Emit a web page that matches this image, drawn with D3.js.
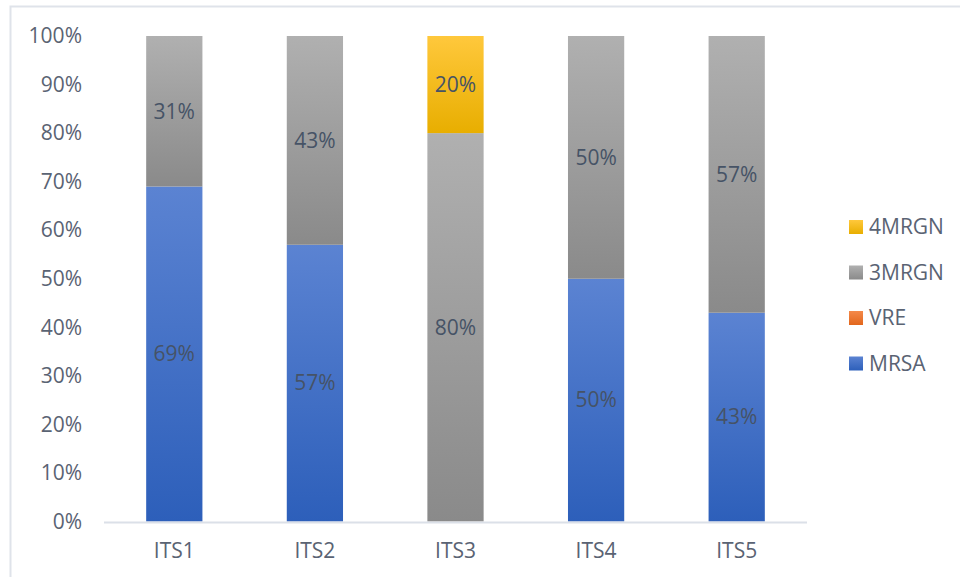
<!DOCTYPE html>
<html>
<head>
<meta charset="utf-8">
<script src="https://cdn.jsdelivr.net/npm/d3@7"></script>
<style>
  body { margin: 0; background: #fff; }
  text { font-family: "Open Sans", "Noto Sans", sans-serif; }
</style>
</head>
<body>
<div class="chart"></div>
<script>
// data
var categories = ["ITS1", "ITS2", "ITS3", "ITS4", "ITS5"];
var seriesNames = ["MRSA", "VRE", "3MRGN", "4MRGN"];
var mrsa  = [69, 57, 0, 50, 43];
var vre   = [0, 0, 0, 0, 0];
var mrgn3 = [31, 43, 80, 50, 57];
var mrgn4 = [0, 0, 20, 0, 0];
var yTicks = [0, 10, 20, 30, 40, 50, 60, 70, 80, 90, 100];

// colours (top, bottom of gradient)
var colors = {
    "MRSA":  ["#5b83d2", "#2d5fba"],
    "VRE":   ["#f4894a", "#e2661c"],
    "3MRGN": ["#b0b0b0", "#8a8a8a"],
    "4MRGN": ["#ffc83c", "#e8ae00"]
};

var W = 960, H = 577;
var plot = {left: 104, right: 807, top: 36, bottom: 521.5};

var svg = d3.select(".chart").append("svg")
    .attr("width", W)
    .attr("height", H);

var defs = svg.append("defs");
seriesNames.forEach(function(name, i) {
    var g = defs.append("linearGradient")
        .attr("id", "grad" + i)
        .attr("x1", 0).attr("y1", 0).attr("x2", 0).attr("y2", 1);
    g.append("stop").attr("offset", "0%").attr("stop-color", colors[name][0]);
    g.append("stop").attr("offset", "100%").attr("stop-color", colors[name][1]);
});

// outer chart frame
svg.append("rect")
    .attr("x", 10.5).attr("y", 6.5)
    .attr("width", W + 20).attr("height", H + 20)
    .attr("fill", "none")
    .attr("stroke", "#dfe3ea")
    .attr("stroke-width", 2);

var x = d3.scaleBand()
    .domain(categories)
    .range([plot.left, plot.right])
    .paddingInner(0.6)
    .paddingOuter(0.3);

var y = d3.scaleLinear()
    .domain([0, 100])
    .range([plot.bottom, plot.top]);

// build table for stack
var table = categories.map(function(c, i) {
    return {cat: c, "MRSA": mrsa[i], "VRE": vre[i], "3MRGN": mrgn3[i], "4MRGN": mrgn4[i]};
});

var stack = d3.stack().keys(seriesNames)(table);

var layer = svg.selectAll(".layer")
    .data(stack)
    .enter().append("g")
    .attr("class", "layer")
    .attr("fill", function(d, i) { return "url(#grad" + i + ")"; });

layer.selectAll("rect")
    .data(function(d) { return d.filter(function(p) { return p[1] - p[0] > 0; }); })
    .enter().append("rect")
    .attr("x", function(d) { return x(d.data.cat); })
    .attr("y", function(d) { return y(d[1]); })
    .attr("width", x.bandwidth())
    .attr("height", function(d) { return y(d[0]) - y(d[1]); });

// data labels
layer.selectAll("text")
    .data(function(d) { return d.filter(function(p) { return p[1] - p[0] > 0; }); })
    .enter().append("text")
    .attr("x", function(d) { return x(d.data.cat) + x.bandwidth() / 2; })
    .attr("y", function(d) { return y((d[0] + d[1]) / 2); })
    .attr("dy", "0.35em")
    .attr("text-anchor", "middle")
    .attr("fill", "#465366")
    .attr("font-size", 21)
    .text(function(d) { return Math.round(d[1] - d[0]) + "%"; });

// y axis labels (no line)
var yAxis = svg.append("g")
    .attr("transform", "translate(" + 82 + ",0)")
    .call(d3.axisLeft(y).tickValues(yTicks).tickSize(0).tickPadding(0)
        .tickFormat(function(d) { return d + "%"; }));
yAxis.select(".domain").remove();
yAxis.selectAll("text")
    .attr("font-size", 21)
    .attr("font-family", "'Open Sans', sans-serif")
    .attr("fill", "#5a6373");

// x axis
var xAxis = svg.append("g")
    .attr("transform", "translate(0," + plot.bottom + ")")
    .call(d3.axisBottom(x).tickSize(0).tickPadding(22));
xAxis.select(".domain")
    .attr("stroke", "#dbe0e8")
    .attr("stroke-width", 2)
    .attr("d", "M" + plot.left + ",1H" + plot.right);
xAxis.selectAll("text")
    .attr("font-size", 21)
    .attr("font-family", "'Open Sans', sans-serif")
    .attr("fill", "#5a6373");

// legend, drawn top-down in reverse order
var legendNames = seriesNames.slice().reverse();
var legend = svg.selectAll(".legend")
    .data(legendNames)
    .enter().append("g")
    .attr("class", "legend")
    .attr("transform", function(d, i) { return "translate(849," + (227 + i * 45.5) + ")"; });

legend.append("rect")
    .attr("x", 0).attr("y", -7)
    .attr("width", 14).attr("height", 14)
    .attr("fill", function(d) { return "url(#grad" + seriesNames.indexOf(d) + ")"; });

legend.append("text")
    .attr("x", 20)
    .attr("dy", "0.35em")
    .attr("font-size", 21)
    .attr("fill", "#5a6373")
    .text(function(d) { return d; });
</script>
</body>
</html>
